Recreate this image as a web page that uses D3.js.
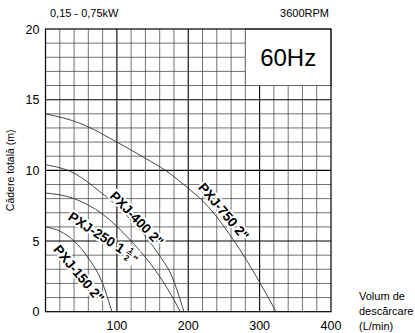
<!DOCTYPE html>
<html>
<head>
<meta charset="utf-8">
<script src="https://cdn.jsdelivr.net/npm/d3@7"></script>
<style>
  body { margin: 0; background: #fff; }
  svg { display: block; font-family: "Liberation Sans", Arial, sans-serif; }
</style>
</head>
<body>
<div id="chart"></div>
<script>
// values
const flowTicks = [100, 200, 300, 400];
const headTicks = [0, 5, 10, 15, 20];

const pxj150 = [[0, 6.0], [20, 5.7], [40, 5.0], [60, 3.8], [80, 2.0], [93, 0]];
const pxj250 = [[0, 8.4], [40, 8.0], [80, 6.9], [120, 5.0], [147, 3.4], [170, 1.7], [189, 0]];
const pxj400 = [[0, 10.4], [40, 9.8], [76, 8.5], [104, 7.3], [132, 5.8], [158, 4.1], [177, 2.5], [194, 0]];
const pxj750 = [[0, 14], [50, 13.3], [100, 12], [140, 10.85], [168, 10], [203, 8.6], [217, 8], [263, 5.1], [301, 2], [323, 0]];

const curves = [pxj150, pxj250, pxj400, pxj750];

// label anchor in data units, rotation in degrees
const curveLabels = [
  { text: "PXJ-150 2\"", at: [47, 2.7], angle: 50 },
  { text: "PXJ-250 1", frac: true, at: [80, 5.35], angle: 33 },
  { text: "PXJ-400 2\"", at: [128, 6.6], angle: 46 },
  { text: "PXJ-750 2\"", at: [250, 7.1], angle: 50 },
];

const width = 415;
const height = 333;
const plot = { left: 45.5, right: 331, top: 29, bottom: 311.7 };

const svg = d3
  .select("#chart")
  .append("svg")
  .attr("width", width)
  .attr("height", height);

const x = d3.scaleLinear().domain([0, 400]).range([plot.left, plot.right]);
const y = d3.scaleLinear().domain([0, 20]).range([plot.bottom, plot.top]);

// grid, minor every 20 L/min and 1 m
const grid = svg.append("g");
grid
  .selectAll(".vx")
  .data(d3.range(20, 400, 20))
  .enter()
  .append("line")
  .attr("x1", (d) => x(d))
  .attr("x2", (d) => x(d))
  .attr("y1", y(0))
  .attr("y2", y(20))
  .attr("stroke", (d) => (d % 100 === 0 ? "#000" : "#444"))
  .attr("stroke-width", (d) => (d % 100 === 0 ? 1.1 : 0.75));

grid
  .selectAll(".hy")
  .data(d3.range(1, 20, 1))
  .enter()
  .append("line")
  .attr("x1", x(0))
  .attr("x2", x(400))
  .attr("y1", (d) => y(d))
  .attr("y2", (d) => y(d))
  .attr("stroke", (d) => (d % 5 === 0 ? "#000" : "#444"))
  .attr("stroke-width", (d) => (d % 5 === 0 ? 1.1 : 0.75));

// 60Hz box
svg
  .append("rect")
  .attr("x", x(280))
  .attr("y", y(20))
  .attr("width", x(400) - x(280))
  .attr("height", y(16) - y(20))
  .attr("fill", "#fff")
  .attr("stroke", "#555")
  .attr("stroke-width", 0.8);

svg
  .append("text")
  .attr("x", (x(280) + x(400)) / 2)
  .attr("y", y(18) + 8.5)
  .attr("text-anchor", "middle")
  .style("font-size", "24px")
  .text("60Hz");

// frame
svg
  .append("rect")
  .attr("x", x(0))
  .attr("y", y(20))
  .attr("width", x(400) - x(0))
  .attr("height", y(0) - y(20))
  .attr("fill", "none")
  .attr("stroke", "#000")
  .attr("stroke-width", 1.2);

// pump curves
const line = d3
  .line()
  .x((d) => x(d[0]))
  .y((d) => y(d[1]))
  .curve(d3.curveMonotoneX);

svg
  .selectAll(".pump")
  .data(curves)
  .enter()
  .append("path")
  .attr("class", "pump")
  .attr("d", line)
  .attr("fill", "none")
  .attr("stroke", "#333")
  .attr("stroke-width", 0.9);

// curve labels with white halo
curveLabels.forEach((lab) => {
  const g = svg
    .append("g")
    .attr(
      "transform",
      `translate(${x(lab.at[0])},${y(lab.at[1])}) rotate(${lab.angle})`
    );
  const t = g
    .append("text")
    .attr("y", 5)
    .attr("text-anchor", lab.frac ? "start" : "middle")
    .style("font-size", "13.5px")
    .style("font-weight", "bold")
    .attr("stroke", "#fff")
    .attr("stroke-width", 4)
    .attr("stroke-linejoin", "round")
    .attr("paint-order", "stroke")
    .text(lab.text);
  if (lab.frac) {
    // stacked 1/2 fraction after the main text
    const w = t.node().getComputedTextLength();
    const total = w + 14;
    t.attr("x", -total / 2);
    const fx = -total / 2 + w + 4;
    g.append("rect")
      .attr("x", fx - 1)
      .attr("y", -8)
      .attr("width", 13)
      .attr("height", 17)
      .attr("fill", "#fff");
    g.append("text")
      .attr("x", fx + 3)
      .attr("y", -1)
      .attr("text-anchor", "middle")
      .style("font-size", "8px")
      .style("font-weight", "bold")
      .text("1");
    g.append("line")
      .attr("x1", fx)
      .attr("x2", fx + 6)
      .attr("y1", 0.5)
      .attr("y2", 0.5)
      .attr("stroke", "#000")
      .attr("stroke-width", 0.9);
    g.append("text")
      .attr("x", fx + 3)
      .attr("y", 8)
      .attr("text-anchor", "middle")
      .style("font-size", "8px")
      .style("font-weight", "bold")
      .text("2");
    g.append("text")
      .attr("x", fx + 8)
      .attr("y", 6)
      .style("font-size", "11px")
      .style("font-weight", "bold")
      .text("\"");
  }
});

// tick labels
svg
  .selectAll(".ytick")
  .data(headTicks)
  .enter()
  .append("text")
  .attr("x", plot.left - 6)
  .attr("y", (d) => y(d) + 4.5)
  .attr("text-anchor", "end")
  .style("font-size", "12.5px")
  .text((d) => d);

svg
  .selectAll(".xtick")
  .data(flowTicks)
  .enter()
  .append("text")
  .attr("x", (d) => x(d))
  .attr("y", 330)
  .attr("text-anchor", "middle")
  .style("font-size", "12.5px")
  .text((d) => d);

// axis titles and header
svg
  .append("text")
  .attr("transform", `translate(14,${(plot.top + plot.bottom) / 2}) rotate(-90)`)
  .attr("text-anchor", "middle")
  .style("font-size", "10.5px")
  .text("Cădere totală (m)");

svg
  .append("text")
  .attr("x", 50)
  .attr("y", 17)
  .style("font-size", "11px")
  .text("0,15 - 0,75kW");

svg
  .append("text")
  .attr("x", 329)
  .attr("y", 17)
  .attr("text-anchor", "end")
  .style("font-size", "11px")
  .text("3600RPM");

const flowTitle = ["Volum de", "descărcare", "(L/min)"];
svg
  .append("g")
  .selectAll("text")
  .data(flowTitle)
  .enter()
  .append("text")
  .attr("x", 359)
  .attr("y", (d, i) => 300 + i * 15)
  .style("font-size", "11px")
  .text((d) => d);
</script>
</body>
</html>
